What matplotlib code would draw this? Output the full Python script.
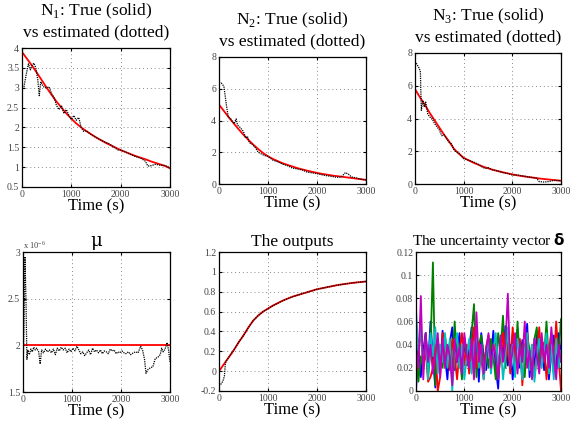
import numpy as np
import matplotlib.pyplot as plt

plt.rcParams['font.family'] = ['Liberation Serif', 'DejaVu Serif']
plt.rcParams['mathtext.fontset'] = 'custom'
plt.rcParams['mathtext.rm'] = 'Liberation Serif'

# ---- data ----
t100 = list(range(0, 3001, 100))

n1_true = [3.9, 3.73, 3.56, 3.38, 3.19, 3.0, 2.82, 2.65, 2.5, 2.35, 2.22, 2.1, 2.0, 1.91,
           1.83, 1.75, 1.68, 1.61, 1.55, 1.49, 1.43, 1.38, 1.33, 1.28, 1.24, 1.2, 1.15,
           1.11, 1.07, 1.03, 0.97]
n1_est_t = [0, 40, 80, 130, 170, 200, 240, 280, 320, 350, 380, 420, 460, 500, 550, 600,
            650, 700, 750, 800, 850, 900, 950, 1000, 1050, 1100, 1150, 1200, 1250, 1300,
            1400, 1500, 1600, 1700, 1750, 1800, 1900, 1950, 2000, 2100, 2200, 2300, 2400,
            2500, 2550, 2600, 2700, 2800, 2900, 3000]
n1_est = [3.05, 3.02, 3.3, 3.6, 3.45, 3.55, 3.62, 3.5, 3.2, 2.8, 3.15, 3.05, 3.0, 3.0,
          3.02, 2.85, 2.75, 2.55, 2.45, 2.55, 2.35, 2.45, 2.3, 2.2, 2.3, 2.18, 2.25, 2.0,
          1.9, 1.92, 1.82, 1.75, 1.68, 1.62, 1.6, 1.56, 1.47, 1.43, 1.43, 1.38, 1.32,
          1.27, 1.23, 1.15, 1.03, 1.03, 1.07, 1.05, 1.04, 0.98]

n2_true = [5.0, 4.6, 4.2, 3.82, 3.45, 3.1, 2.78, 2.48, 2.2, 1.95, 1.74, 1.58, 1.44, 1.31,
           1.2, 1.1, 1.0, 0.92, 0.84, 0.77, 0.7, 0.64, 0.59, 0.54, 0.5, 0.46, 0.42, 0.38,
           0.34, 0.3, 0.26]
n2_est_t = [0, 50, 100, 150, 190, 230, 270, 310, 350, 380, 420, 460, 500, 540, 580, 620,
            680, 740, 800, 860, 920, 1000, 1100, 1200, 1300, 1400, 1500, 1600, 1700, 1800,
            1900, 2000, 2100, 2200, 2300, 2400, 2500, 2580, 2650, 2700, 2800, 2900, 3000]
n2_est = [6.4, 6.35, 6.15, 5.0, 4.2, 4.15, 3.95, 3.8, 4.1, 3.7, 3.6, 3.45, 3.3, 2.9, 3.0,
          2.6, 2.5, 2.3, 2.0, 1.9, 1.8, 1.75, 1.5, 1.4, 1.25, 1.15, 1.0, 0.95, 0.88, 0.75,
          0.7, 0.65, 0.58, 0.52, 0.48, 0.42, 0.45, 0.72, 0.6, 0.45, 0.38, 0.3, 0.25]

n3_true = [5.8, 5.3, 4.85, 4.35, 3.9, 3.45, 3.0, 2.6, 2.15, 1.85, 1.6, 1.45, 1.3, 1.18,
           1.06, 0.96, 0.87, 0.79, 0.72, 0.65, 0.59, 0.53, 0.48, 0.44, 0.4, 0.36, 0.32,
           0.29, 0.26, 0.23, 0.2]
n3_est_t = [0, 40, 80, 110, 130, 160, 190, 220, 260, 300, 350, 400, 450, 500, 550, 600,
            650, 700, 750, 800, 850, 900, 1000, 1100, 1200, 1300, 1400, 1450, 1500, 1600,
            1700, 1800, 1900, 2000, 2100, 2200, 2300, 2400, 2500, 2550, 2650, 2750, 2850,
            3000]
n3_est = [7.5, 7.3, 7.1, 6.9, 4.5, 5.1, 4.7, 5.0, 4.3, 4.1, 4.0, 3.7, 3.5, 3.3, 2.95,
          3.0, 2.75, 2.55, 2.45, 2.1, 1.95, 1.9, 1.55, 1.45, 1.35, 1.2, 1.0, 0.95, 1.0,
          0.85, 0.8, 0.7, 0.65, 0.55, 0.55, 0.5, 0.45, 0.4, 0.35, 0.15, 0.12, 0.15, 0.22,
          0.2]

# mu, in units of 1e-6
mu_true_t = [0, 3000]
mu_true = [2.0, 2.0]
mu_est_t = [0, 20, 40, 60, 80, 100, 130, 160, 190, 220, 250, 280, 320, 350, 380, 420,
            460, 500, 540, 580, 620, 660, 700, 740, 780, 820, 860, 900, 940, 980, 1020,
            1060, 1100, 1140, 1180, 1220, 1260, 1300, 1340, 1380, 1420, 1460, 1500, 1540,
            1580, 1620, 1660, 1700, 1740, 1780, 1820, 1860, 1900, 1940, 1980, 2020, 2060,
            2100, 2150, 2200, 2250, 2300, 2350, 2400, 2440, 2480, 2510, 2550, 2600, 2650,
            2700, 2750, 2800, 2830, 2860, 2900, 2940, 2970, 3000]
mu_est = [1.7, 2.2, 2.95, 2.5, 1.85, 1.95, 1.9, 1.96, 1.93, 1.98, 1.95, 1.97, 1.93, 1.8,
          1.95, 1.92, 1.96, 1.93, 1.95, 1.92, 1.96, 1.9, 1.97, 1.94, 1.98, 1.95, 1.97,
          1.92, 1.96, 1.93, 1.97, 1.94, 1.99, 1.95, 1.91, 1.93, 1.89, 1.92, 1.95, 1.9,
          1.97, 1.93, 1.95, 1.92, 1.95, 1.91, 1.94, 1.93, 1.91, 1.96, 1.94, 1.95, 1.91,
          1.93, 1.92, 1.94, 1.92, 1.91, 1.93, 1.9, 1.92, 1.93, 1.92, 1.99, 1.95, 1.85,
          1.7, 1.74, 1.76, 1.77, 1.86, 1.87, 1.9, 1.97, 1.93, 1.96, 2.03, 1.95, 1.82]

y_true = [0.0, 0.07, 0.14, 0.21, 0.29, 0.36, 0.44, 0.51, 0.56, 0.6, 0.63, 0.66, 0.685,
          0.71, 0.73, 0.75, 0.765, 0.78, 0.795, 0.81, 0.825, 0.835, 0.845, 0.855, 0.865,
          0.873, 0.88, 0.887, 0.893, 0.898, 0.903]
y_est_t = [0, 40, 80, 110, 130, 150] + t100[2:]
y_est = [-0.15, -0.13, -0.1, -0.05, 0.08, 0.105] + y_true[2:]

t50 = list(range(0, 3001, 50))
d_blue = [0.0, 0.04, 0.012, 0.035, 0.05, 0.02, 0.06, 0.028, 0.003, 0.045, 0.02, 0.052,
          0.03, 0.01, 0.042, 0.055, 0.018, 0.033, 0.05, 0.012, 0.046, 0.022, 0.036, 0.055,
          0.02, 0.043, 0.008, 0.05, 0.03, 0.018, 0.042, 0.028, 0.052, 0.02, 0.002, 0.045,
          0.03, 0.056, 0.022, 0.04, 0.01, 0.035, 0.053, 0.02, 0.044, 0.03, 0.058, 0.012,
          0.034, 0.022, 0.05, 0.028, 0.045, 0.018, 0.05, 0.01, 0.032, 0.048, 0.02, 0.05,
          0.03]
d_green = [0.04, 0.008, 0.03, 0.022, 0.05, 0.012, 0.035, 0.111, 0.005, 0.045, 0.03, 0.02,
           0.048, 0.028, 0.04, 0.015, 0.06, 0.025, 0.038, 0.01, 0.046, 0.03, 0.02, 0.05,
           0.075, 0.012, 0.04, 0.048, 0.025, 0.035, 0.02, 0.045, 0.03, 0.01, 0.05, 0.035,
           0.065, 0.02, 0.042, 0.03, 0.05, 0.015, 0.06, 0.025, 0.04, 0.012, 0.048, 0.035,
           0.022, 0.045, 0.055, 0.02, 0.04, 0.03, 0.06, 0.025, 0.04, 0.015, 0.045, 0.03,
           0.062]
d_red = [0.015, 0.03, 0.055, 0.02, 0.035, 0.008, 0.012, 0.02, 0.04, 0.0, 0.012, 0.05,
         0.025, 0.038, 0.018, 0.045, 0.03, 0.01, 0.035, 0.05, 0.022, 0.04, 0.015, 0.03,
         0.055, 0.02, 0.042, 0.028, 0.01, 0.038, 0.048, 0.02, 0.035, 0.045, 0.012, 0.03,
         0.05, 0.025, 0.04, 0.015, 0.055, 0.03, 0.02, 0.045, 0.005, 0.038, 0.05, 0.022,
         0.04, 0.012, 0.03, 0.055, 0.025, 0.042, 0.01, 0.035, 0.05, 0.02, 0.06, 0.03, 0.0]
d_cyan = [0.07, 0.035, 0.055, 0.02, 0.045, 0.01, 0.05, 0.03, 0.055, 0.015, 0.04, 0.025,
          0.05, 0.02, 0.045, 0.0, 0.035, 0.05, 0.02, 0.04, 0.01, 0.03, 0.045, 0.015, 0.035,
          0.05, 0.02, 0.04, 0.01, 0.03, 0.045, 0.015, 0.035, 0.05, 0.02, 0.04, 0.01, 0.03,
          0.055, 0.02, 0.04, 0.012, 0.045, 0.03, 0.01, 0.035, 0.05, 0.018, 0.04, 0.008,
          0.03, 0.045, 0.02, 0.035, 0.05, 0.015, 0.04, 0.01, 0.045, 0.02, 0.035]
d_magenta = [0.035, 0.02, 0.082, 0.01, 0.05, 0.025, 0.04, 0.015, 0.03, 0.05, 0.012, 0.045,
             0.02, 0.04, 0.03, 0.005, 0.045, 0.025, 0.038, 0.015, 0.05, 0.03, 0.02, 0.045,
             0.01, 0.068, 0.025, 0.04, 0.015, 0.035, 0.05, 0.02, 0.04, 0.03, 0.01, 0.048,
             0.025, 0.04, 0.084, 0.02, 0.035, 0.05, 0.015, 0.04, 0.025, 0.06, 0.02, 0.035,
             0.01, 0.045, 0.03, 0.015, 0.05, 0.025, 0.04, 0.02, 0.055, 0.03, 0.01, 0.04,
             0.025]
delta_series = [d_blue, d_green, d_red, d_cyan, d_magenta]
delta_colors = ['b', 'g', 'r', 'c', 'm']

# ---- figure ----
fig = plt.figure(figsize=(5.72, 4.24), dpi=100)

def W(px):
    return px / 572

def H(px):
    return px / 424

def make_ax(l, r, top, bot):
    return fig.add_axes([W(l), 1 - H(bot), W(r - l), H(bot - top)])

def style(ax, yticks, ylim):
    ax.set_xlim(0, 3000)
    ax.set_xticks([0, 1000, 2000, 3000])
    ax.set_ylim(*ylim)
    ax.set_yticks(yticks)
    ax.tick_params(direction='in', length=2.5, labelsize=7, colors='k',
                   labelcolor='#444444', top=True, right=True, pad=2)
    ax.grid(True, linestyle=(0, (1, 3)), color='#888888', linewidth=0.7)
    for s in ax.spines.values():
        s.set_linewidth(0.9)
    ax.set_xlabel('Time (s)', fontsize=12, labelpad=0)

est_style = dict(color='k', linestyle=(0, (1, 0.8)), linewidth=0.9)
true_style = dict(color='r', linewidth=1.3)
ttl = dict(fontsize=12.5, pad=8, linespacing=1.3)

ax1 = make_ax(22, 170, 48, 187)
ax1.plot(t100, n1_true, **true_style)
ax1.plot(n1_est_t, n1_est, **est_style)
style(ax1, [0.5, 1, 1.5, 2, 2.5, 3, 3.5, 4], (0.5, 4))
ax1.set_yticklabels(['0.5', '1', '1.5', '2', '2.5', '3', '3.5', '4'])
ax1.set_title('N$_1$: True (solid)\nvs estimated (dotted)', **ttl)

ax2 = make_ax(219, 366, 57, 184)
ax2.plot(t100, n2_true, **true_style)
ax2.plot(n2_est_t, n2_est, **est_style)
style(ax2, [0, 2, 4, 6, 8], (0, 8))
ax2.set_title('N$_2$: True (solid)\nvs estimated (dotted)', **ttl)

ax3 = make_ax(415, 561, 53, 184)
ax3.plot(t100, n3_true, **true_style)
ax3.plot(n3_est_t, n3_est, **est_style)
style(ax3, [0, 2, 4, 6, 8], (0, 8))
ax3.set_title('N$_3$: True (solid)\nvs estimated (dotted)', **ttl)

ax4 = make_ax(23, 170, 252, 392)
ax4.plot(mu_true_t, mu_true, **true_style)
ax4.plot(mu_est_t, mu_est, **est_style)
style(ax4, [1.5, 2, 2.5, 3], (1.5, 3))
ax4.set_yticklabels(['1.5', '2', '2.5', '3'])
ax4.text(0, 1.005, r'x 10$^{-6}$', transform=ax4.transAxes, fontsize=6,
         color='#444444', va='bottom', ha='left')
ax4.set_title('\u03bc', fontsize=13, pad=4, family='DejaVu Serif')

ax5 = make_ax(219, 366, 252, 391)
ax5.plot(t100, y_true, **true_style)
ax5.plot(y_est_t, y_est, **est_style)
style(ax5, [-0.2, 0, 0.2, 0.4, 0.6, 0.8, 1, 1.2], (-0.2, 1.2))
ax5.set_yticklabels(['-0.2', '0', '0.2', '0.4', '0.6', '0.8', '1', '1.2'])
ax5.set_title('The outputs', fontsize=12.5, pad=4)

ax6 = make_ax(416, 561, 252, 391)
for d, c in zip(delta_series, delta_colors):
    ax6.plot(t50, d, color=c, linewidth=1.3)
style(ax6, [0, 0.02, 0.04, 0.06, 0.08, 0.1, 0.12], (0, 0.12))
ax6.set_yticklabels(['0', '0.02', '0.04', '0.06', '0.08', '0.1', '0.12'])
ax6.set_title('The uncertainty vector $\\mathbf{\\delta}$', fontsize=11, pad=5)

fig.savefig('out.png', dpi=100)
